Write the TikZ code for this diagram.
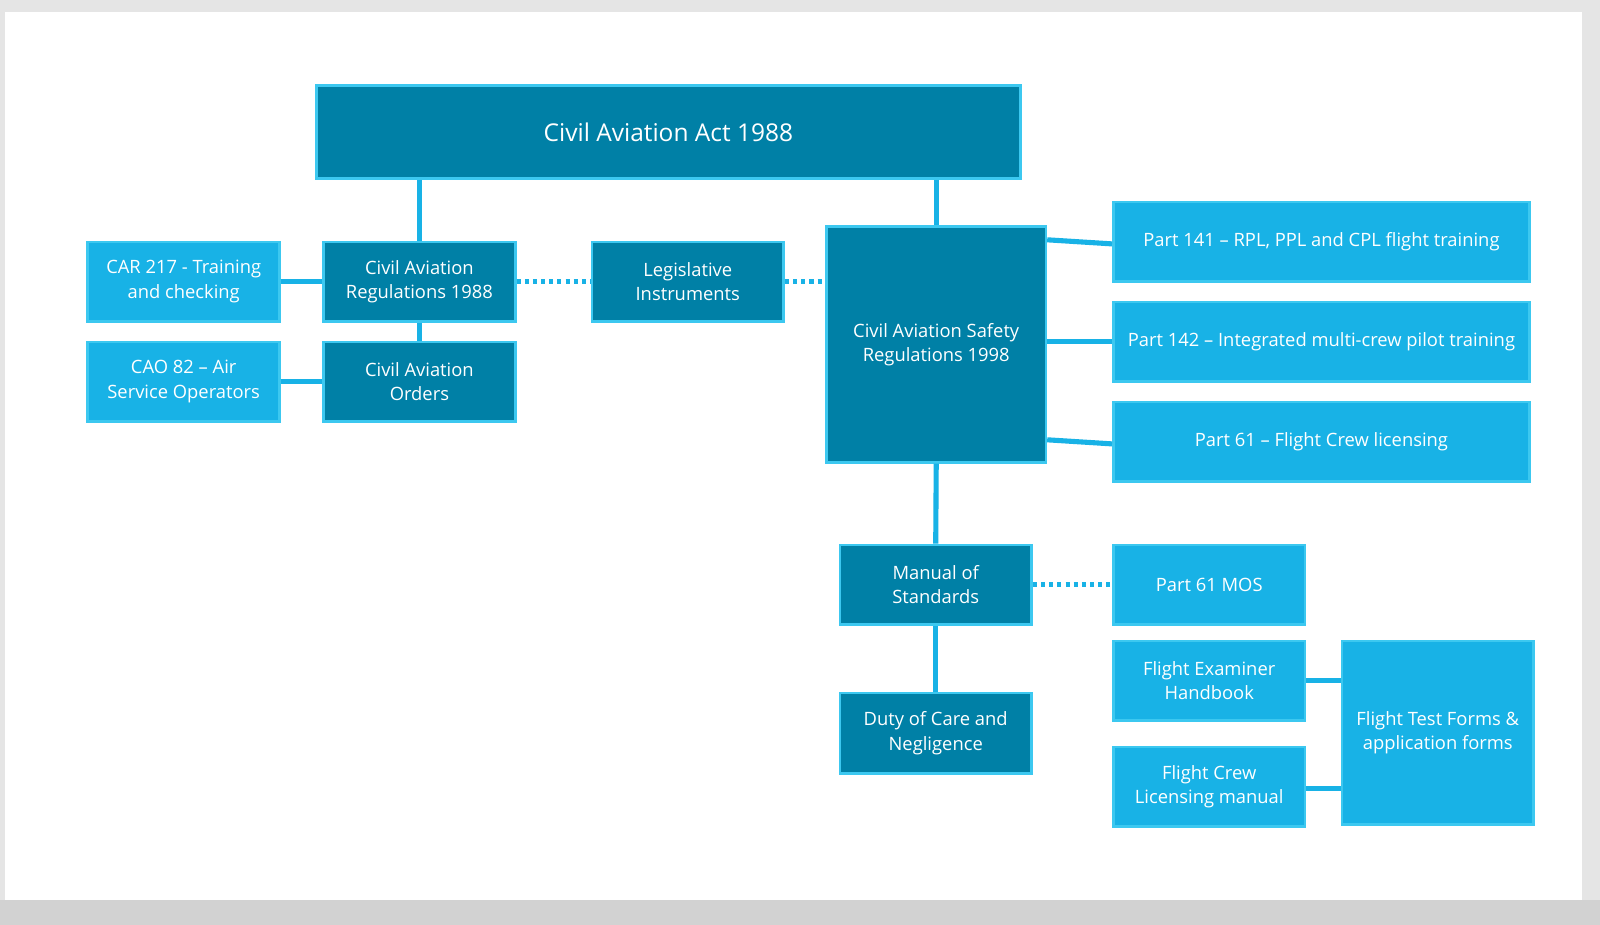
\documentclass[tikz,border=0pt]{standalone}
\usepackage{fontspec}
\setmainfont{Open Sans}
\definecolor{dk}{RGB}{0,128,166}
\definecolor{lt}{RGB}{24,178,230}
\definecolor{bd}{RGB}{60,200,240}
\definecolor{ln}{RGB}{24,178,230}
\begin{document}
\begin{tikzpicture}[x=1pt,y=-1pt,
 box/.style={draw=bd,line width=2.5pt,text=white,align=center,font=\fontsize{18}{24}\selectfont,inner sep=0pt},
 dkb/.style={box,fill=dk},
 ltb/.style={box,fill=lt},
 con/.style={ln,line width=5pt},
 dot/.style={ln,line width=5pt,dash pattern=on 4pt off 4pt}]
\fill[gray!20] (0,0) rectangle (1568,906);
\fill[white] (5,12) rectangle (1550,882);
\fill[gray!35] (0,882) rectangle (1568,906);
\newcommand{\bx}[7]{\node[#1,minimum width=#4-#3,minimum height=#6-#5] (#2) at ({(#3+#4)/2},{(#5+#6)/2}) {#7};}
\bx{dkb,font=\fontsize{24}{30}\selectfont}{act}{310}{1000}{84}{175}{Civil Aviation Act 1988}
\bx{ltb}{car217}{86}{274}{237}{315}{CAR 217 - Training\\and checking}
\bx{dkb}{car88}{317}{505}{237}{315}{Civil Aviation\\Regulations 1988}
\bx{ltb}{cao82}{86}{274}{335}{413}{CAO 82 – Air\\Service Operators}
\bx{dkb}{cao}{317}{505}{335}{413}{Civil Aviation\\Orders}
\bx{dkb}{li}{580}{768}{237}{315}{Legislative\\Instruments}
\bx{dkb,text depth=0pt}{casr}{810}{1025}{222}{453}{}
\node[text=white,align=center,font=\fontsize{18}{24}\selectfont] at (917.5,338) {Civil Aviation Safety\\Regulations 1998};
\bx{ltb}{p141}{1091}{1499}{198}{276}{Part 141 – RPL, PPL and CPL flight training}
\bx{ltb}{p142}{1091}{1499}{296}{374}{Part 142 – Integrated multi-crew pilot training}
\bx{ltb}{p61}{1091}{1499}{394}{472}{Part 61 – Flight Crew licensing}
\bx{dkb}{mos}{823}{1011}{534}{612}{Manual of\\Standards}
\bx{ltb}{p61mos}{1091}{1279}{534}{612}{Part 61 MOS}
\bx{dkb}{duty}{823}{1011}{679}{758}{Duty of Care and\\Negligence}
\bx{ltb}{feh}{1091}{1279}{628}{706}{Flight Examiner\\Handbook}
\bx{ltb}{fclm}{1091}{1279}{732}{810}{Flight Crew\\Licensing manual}
\bx{ltb}{ftf}{1315}{1503}{628}{808}{Flight Test Forms \&\\application forms}
\begin{scope}[on background layer/.style={}]
\draw[con] (act.south -| car88.north) -- (car88.north);
\draw[con] (act.south -| casr.north) -- (casr.north);
\draw[con] (car217.east) -- (car88.west);
\draw[con] (car88.south) -- (cao.north);
\draw[con] (cao82.east) -- (cao.west);
\draw[dot] (car88.east) -- (li.west);
\draw[dot] (li.east) -- (li.east -| casr.west);
\draw[con] (casr.east |- p141.west) ++(0,-2) -- ([yshift=-2pt]p141.west);
\draw[con] (casr.east |- p142.west) -- (p142.west);
\draw[con] (casr.east |- p61.west) ++(0,-2) -- ([yshift=-2pt]p61.west);
\draw[con] (casr.south) -- (mos.north);
\draw[dot] (mos.east) -- (p61mos.west);
\draw[con] (mos.south) -- (duty.north);
\draw[con] (feh.east) -- (feh.east -| ftf.west);
\draw[con] ([yshift=-2pt]fclm.east) -- ([yshift=-2pt]fclm.east -| ftf.west);
\end{scope}
\end{tikzpicture}
\end{document}
